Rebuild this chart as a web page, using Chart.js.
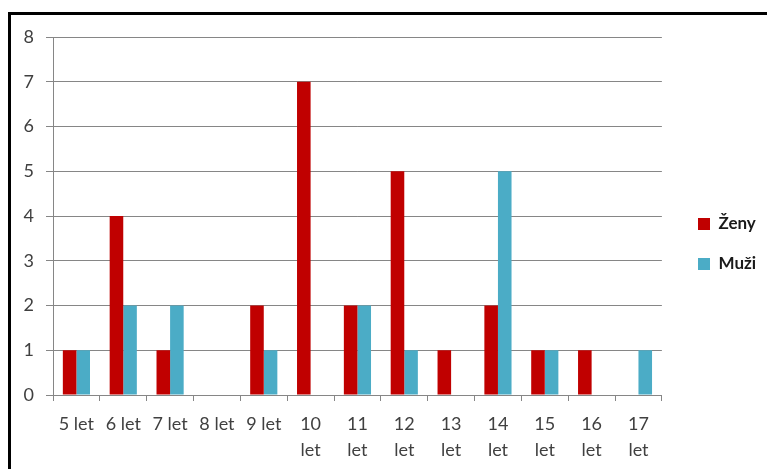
<!DOCTYPE html>
<html>
<head>
<meta charset="utf-8">
<script src="https://cdn.jsdelivr.net/npm/chart.js@4/dist/chart.umd.min.js"></script>
<style>
  html, body { margin: 0; padding: 0; background: #fff; overflow: hidden; }
  #wrap { position: relative; width: 767px; height: 469px; }
  #frame { position: absolute; left: 8px; top: 12px; width: 800px; height: 500px; border: 3px solid #000; box-sizing: border-box; pointer-events: none; }
  canvas { position: absolute; left: 0; top: 0; }
</style>
</head>
<body>
<div id="wrap">
  <canvas id="c" width="767" height="469"></canvas>
  <div id="frame"></div>
</div>
<script>
const categories = [
  "5 let", "6 let", "7 let", "8 let", "9 let",
  ["10", "let"], ["11", "let"], ["12", "let"], ["13", "let"],
  ["14", "let"], ["15", "let"], ["16", "let"], ["17", "let"]
];
const zeny = [1, 4, 1, 0, 2, 7, 2, 5, 1, 2, 1, 1, 0];
const muzi = [1, 2, 2, 0, 1, 0, 2, 1, 0, 5, 1, 0, 1];
const yTicks = [0, 1, 2, 3, 4, 5, 6, 7, 8];

const FONT = "Lato, 'Open Sans', sans-serif";
const LEGEND_PAD = 23;

// Place the legend column a little to the right of the plot and centred on it.
const legendPlacement = {
  id: "legendPlacement",
  afterLayout(chart) {
    const L = chart.legend;
    if (!L) return;
    const dx = 698 - (L.left + LEGEND_PAD);
    L.left += dx; L.right += dx;
    const dy = 244 - (L.top + L.bottom) / 2;
    L.top += dy; L.bottom += dy;
  }
};

new Chart(document.getElementById("c"), {
  type: "bar",
  data: {
    labels: categories,
    datasets: [
      { label: "Ženy", data: zeny, backgroundColor: "#C00000" },
      { label: "Muži", data: muzi, backgroundColor: "#4BACC6" }
    ]
  },
  options: {
    responsive: false,
    animation: false,
    layout: { padding: { left: 12, top: 37, right: 14, bottom: 0 } },
    datasets: { bar: { categoryPercentage: 0.58, barPercentage: 1.0 } },
    plugins: {
      tooltip: { enabled: false },
      legend: {
        position: "right",
        labels: {
          boxWidth: 12, boxHeight: 12, padding: LEGEND_PAD,
          color: "#1a1a1a",
          font: { family: FONT, size: 17, weight: "bold" }
        }
      }
    },
    scales: {
      x: {
        offset: true,
        grid: { display: true, drawOnChartArea: false, offset: true, color: "#868686", tickLength: 6 },
        border: { color: "#868686" },
        ticks: { color: "#404040", font: { family: FONT, size: 18, lineHeight: 1.44 }, maxRotation: 0, autoSkip: false, padding: 10 },
        afterFit: s => { s.height = 74; }
      },
      y: {
        min: 0, max: 8,
        afterBuildTicks: s => { s.ticks = yTicks.map(v => ({ value: v })); },
        grid: { color: "#868686", tickLength: 7 },
        border: { color: "#868686" },
        ticks: { color: "#404040", font: { family: FONT, size: 18 }, padding: 12 },
        afterFit: s => { s.width = 41; }
      }
    }
  },
  plugins: [legendPlacement]
});
</script>
</body>
</html>
